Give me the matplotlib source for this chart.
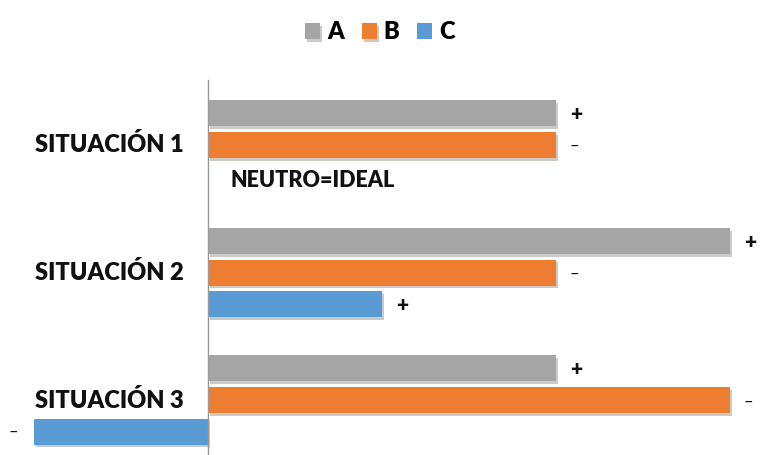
import matplotlib
matplotlib.use("Agg")
import matplotlib.pyplot as plt
import matplotlib.patheffects as pe
import numpy as np

# Data
situations = ["SITUACIÓN 1", "SITUACIÓN 2", "SITUACIÓN 3"]
series = ["A", "B", "C"]
values_a = [2, 3, 2]
values_b = [2, 2, 3]
values_c = [0, 1, -1]
labels_a = ["+", "+", "+"]
labels_b = ["–", "–", "–"]
labels_c = ["NEUTRO=IDEAL", "+", "–"]

colors = {"A": "#A5A5A5", "B": "#ED7D31", "C": "#5B9BD5"}

plt.rcParams["font.family"] = ["Lato", "DejaVu Sans"]

fig = plt.figure(figsize=(7.6, 4.55), dpi=100)
ax = fig.add_axes([0, 0, 1, 1])

groups = np.arange(len(situations))
offsets = {"A": -0.248, "B": 0.0, "C": 0.248}
bar_h = 0.204
shadow = [pe.SimplePatchShadow(offset=(1.5, -2), alpha=0.25), pe.Normal()]

for name, vals, labs in [("A", values_a, labels_a),
                         ("B", values_b, labels_b),
                         ("C", values_c, labels_c)]:
    ypos = groups + offsets[name]
    bars = ax.barh(ypos, vals, height=bar_h, color=colors[name], label=name)
    for b, v in zip(bars, vals):
        if v != 0:
            b.set_path_effects(shadow)
    for y, v, lab in zip(ypos, vals, labs):
        if v == 0:
            ax.text(0.13, y + 0.03, lab, ha="left", va="center",
                    fontsize=15.5, fontweight="heavy", color="#111111")
        elif v > 0:
            bold = lab == "+"
            ax.text(v + 0.08, y + 0.01, lab, ha="left", va="center",
                    fontsize=15 if bold else 12,
                    fontweight="heavy" if bold else "normal", color="#111111")
        else:
            ax.text(v - 0.09, y, lab, ha="right", va="center",
                    fontsize=12, color="#111111")

# category labels to the left of the axis line
for g, name in zip(groups, situations):
    ax.text(-0.14, g, name, ha="right", va="center", fontsize=17,
            fontweight="heavy", color="#111111")

ax.axvline(0, ymin=0, ymax=0.824, color="#999999", lw=1)

ax.set_xlim(-1.195, 3.172)
ax.set_ylim(2.431, -1.137)
ax.axis("off")

ax.legend(loc="upper center", bbox_to_anchor=(0.5, 1.0), ncol=3, frameon=False,
          handlelength=0.64, handleheight=0.64, handletextpad=0.3, columnspacing=0.75,
          prop={"weight": "heavy", "size": 17}, borderaxespad=0.5)

fig.savefig("out.png", dpi=100)
